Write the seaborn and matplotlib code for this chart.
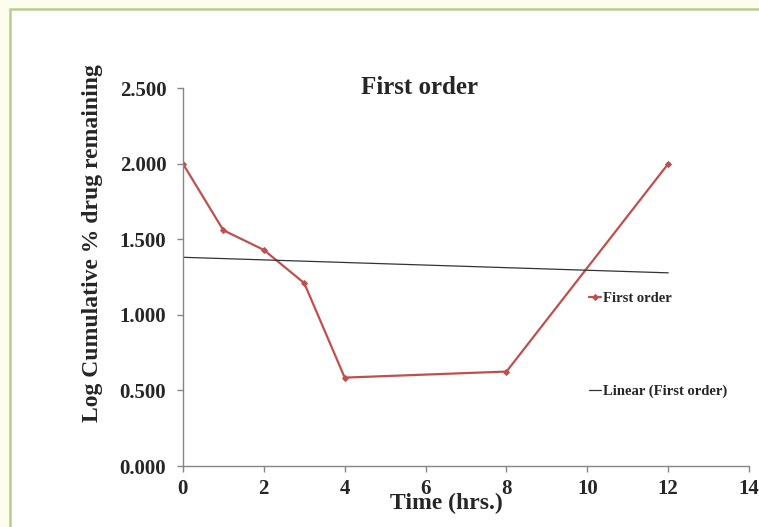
import numpy as np
import pandas as pd
import matplotlib
matplotlib.use('Agg')
import matplotlib.pyplot as plt
from matplotlib.patches import Rectangle
import seaborn as sns

# data
time_hrs = [0, 1, 2, 3, 4, 8, 12]
log_remaining = [2.000, 1.560, 1.430, 1.210, 0.585, 0.625, 2.000]
x_ticks = [0, 2, 4, 6, 8, 10, 12, 14]
y_ticks = [0.0, 0.5, 1.0, 1.5, 2.0, 2.5]

df = pd.DataFrame({'time': time_hrs, 'logrem': log_remaining})

sns.set_theme(style='white')
plt.rcParams['font.family'] = ['Liberation Serif', 'DejaVu Serif']
plt.rcParams['font.weight'] = 'bold'

fig = plt.figure(figsize=(7.59, 5.27), dpi=100, facecolor='#fdfdee')

# chart area frame (runs off the right and bottom edge like the reference)
frame = Rectangle((10 / 759, -0.05), 1.05, 1 - 9 / 527 + 0.05, transform=fig.transFigure,
                  facecolor='white', edgecolor='#b9cc8e', linewidth=1.8, zorder=-5)
fig.patches.append(frame)

ax = fig.add_axes([0.241, 0.1157, 0.746, 0.717])
ax.set_facecolor('none')

red = '#c0504d'
sns.lineplot(data=df, x='time', y='logrem', ax=ax, color=red, marker='D', markersize=3,
             markeredgecolor=red, linewidth=1.6, label='First order')

# linear trendline
slope, intercept = np.polyfit(time_hrs, log_remaining, 1)
xs = np.array([min(time_hrs), max(time_hrs)])
ax.plot(xs, slope * xs + intercept, color='#333333', linewidth=0.9, label='Linear (First order)')

ax.set_xlim(0, 14)
ax.set_ylim(0, 2.5)
ax.set_xticks(x_ticks)
ax.set_yticks(y_ticks)
ax.set_yticklabels([f'{v:.3f}' for v in y_ticks])
ax.tick_params(axis='both', direction='out', length=4, color='#868686', width=1,
               labelsize=15, left=True, bottom=True)
ax.tick_params(axis='x', pad=5)
ax.tick_params(axis='y', pad=8)
for lab in ax.get_xticklabels() + ax.get_yticklabels():
    lab.set_fontweight('bold')

sns.despine(ax=ax)
for sp in ['left', 'bottom']:
    ax.spines[sp].set_color('#868686')
    ax.spines[sp].set_linewidth(1)

ax.set_xlabel('Time (hrs.)', fontsize=17, fontweight='bold')
ax.xaxis.set_label_coords(0.466, -0.07)
ax.set_ylabel('Log Cumulative % drug remaining', fontsize=17, fontweight='bold')
ax.yaxis.set_label_coords(-0.142, 0.59)
ax.set_title('First order', fontsize=18, fontweight='bold', pad=-4, x=0.418)

leg = ax.legend(loc='upper left', bbox_to_anchor=(0.694, 0.495), frameon=False,
                labelspacing=5.45, handlelength=0.8, handletextpad=0.15,
                prop={'size': 10.5, 'weight': 'bold'})

fig.savefig('out.png', dpi=100, facecolor=fig.get_facecolor())
